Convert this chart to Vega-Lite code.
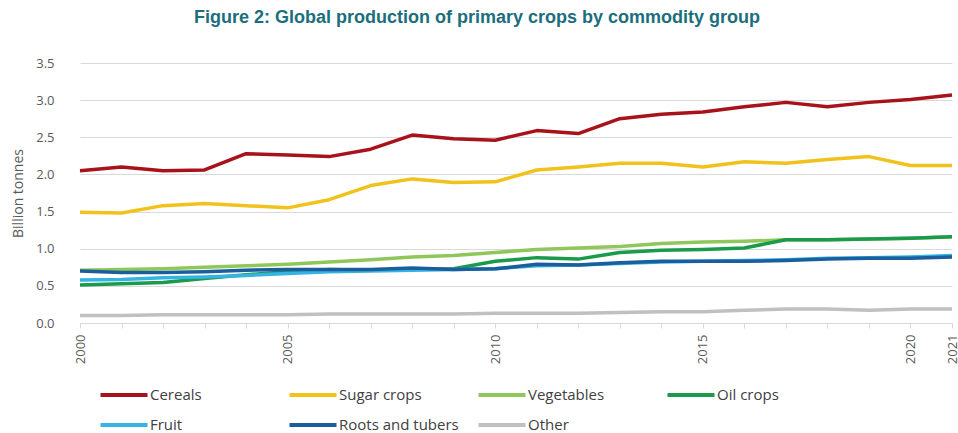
{
  "$schema": "https://vega.github.io/schema/vega-lite/v6.json",
  "autosize": "none",
  "width": 872,
  "height": 260,
  "padding": {"left": 80, "top": 63, "right": 6, "bottom": 110},
  "background": "white",
  "title": {
    "text": "Figure 2: Global production of primary crops by commodity group",
    "font": "Liberation Sans",
    "fontSize": 18,
    "fontWeight": "bold",
    "color": "#1C6E7D",
    "anchor": "middle",
    "dx": -39,
    "offset": 30
  },
  "data": {
    "values": [
      {"group":"Cereals","year":2000,"value":2.05},{"group":"Cereals","year":2001,"value":2.10},{"group":"Cereals","year":2002,"value":2.05},{"group":"Cereals","year":2003,"value":2.06},{"group":"Cereals","year":2004,"value":2.28},{"group":"Cereals","year":2005,"value":2.26},{"group":"Cereals","year":2006,"value":2.24},{"group":"Cereals","year":2007,"value":2.34},{"group":"Cereals","year":2008,"value":2.53},{"group":"Cereals","year":2009,"value":2.48},{"group":"Cereals","year":2010,"value":2.46},{"group":"Cereals","year":2011,"value":2.59},{"group":"Cereals","year":2012,"value":2.55},{"group":"Cereals","year":2013,"value":2.75},{"group":"Cereals","year":2014,"value":2.81},{"group":"Cereals","year":2015,"value":2.84},{"group":"Cereals","year":2016,"value":2.91},{"group":"Cereals","year":2017,"value":2.97},{"group":"Cereals","year":2018,"value":2.91},{"group":"Cereals","year":2019,"value":2.97},{"group":"Cereals","year":2020,"value":3.01},{"group":"Cereals","year":2021,"value":3.07},
      {"group":"Sugar crops","year":2000,"value":1.49},{"group":"Sugar crops","year":2001,"value":1.48},{"group":"Sugar crops","year":2002,"value":1.58},{"group":"Sugar crops","year":2003,"value":1.61},{"group":"Sugar crops","year":2004,"value":1.58},{"group":"Sugar crops","year":2005,"value":1.55},{"group":"Sugar crops","year":2006,"value":1.66},{"group":"Sugar crops","year":2007,"value":1.85},{"group":"Sugar crops","year":2008,"value":1.94},{"group":"Sugar crops","year":2009,"value":1.89},{"group":"Sugar crops","year":2010,"value":1.90},{"group":"Sugar crops","year":2011,"value":2.06},{"group":"Sugar crops","year":2012,"value":2.10},{"group":"Sugar crops","year":2013,"value":2.15},{"group":"Sugar crops","year":2014,"value":2.15},{"group":"Sugar crops","year":2015,"value":2.10},{"group":"Sugar crops","year":2016,"value":2.17},{"group":"Sugar crops","year":2017,"value":2.15},{"group":"Sugar crops","year":2018,"value":2.20},{"group":"Sugar crops","year":2019,"value":2.24},{"group":"Sugar crops","year":2020,"value":2.12},{"group":"Sugar crops","year":2021,"value":2.12},
      {"group":"Vegetables","year":2000,"value":0.71},{"group":"Vegetables","year":2001,"value":0.72},{"group":"Vegetables","year":2002,"value":0.73},{"group":"Vegetables","year":2003,"value":0.75},{"group":"Vegetables","year":2004,"value":0.77},{"group":"Vegetables","year":2005,"value":0.79},{"group":"Vegetables","year":2006,"value":0.82},{"group":"Vegetables","year":2007,"value":0.85},{"group":"Vegetables","year":2008,"value":0.89},{"group":"Vegetables","year":2009,"value":0.91},{"group":"Vegetables","year":2010,"value":0.95},{"group":"Vegetables","year":2011,"value":0.99},{"group":"Vegetables","year":2012,"value":1.01},{"group":"Vegetables","year":2013,"value":1.03},{"group":"Vegetables","year":2014,"value":1.07},{"group":"Vegetables","year":2015,"value":1.09},{"group":"Vegetables","year":2016,"value":1.10},{"group":"Vegetables","year":2017,"value":1.12},{"group":"Vegetables","year":2018,"value":1.12},{"group":"Vegetables","year":2019,"value":1.13},{"group":"Vegetables","year":2020,"value":1.14},{"group":"Vegetables","year":2021,"value":1.16},
      {"group":"Oil crops","year":2000,"value":0.51},{"group":"Oil crops","year":2001,"value":0.53},{"group":"Oil crops","year":2002,"value":0.545},{"group":"Oil crops","year":2003,"value":0.60},{"group":"Oil crops","year":2004,"value":0.65},{"group":"Oil crops","year":2005,"value":0.69},{"group":"Oil crops","year":2006,"value":0.72},{"group":"Oil crops","year":2007,"value":0.71},{"group":"Oil crops","year":2008,"value":0.72},{"group":"Oil crops","year":2009,"value":0.73},{"group":"Oil crops","year":2010,"value":0.83},{"group":"Oil crops","year":2011,"value":0.88},{"group":"Oil crops","year":2012,"value":0.86},{"group":"Oil crops","year":2013,"value":0.95},{"group":"Oil crops","year":2014,"value":0.98},{"group":"Oil crops","year":2015,"value":0.99},{"group":"Oil crops","year":2016,"value":1.01},{"group":"Oil crops","year":2017,"value":1.12},{"group":"Oil crops","year":2018,"value":1.12},{"group":"Oil crops","year":2019,"value":1.13},{"group":"Oil crops","year":2020,"value":1.14},{"group":"Oil crops","year":2021,"value":1.16},
      {"group":"Fruit","year":2000,"value":0.58},{"group":"Fruit","year":2001,"value":0.585},{"group":"Fruit","year":2002,"value":0.61},{"group":"Fruit","year":2003,"value":0.62},{"group":"Fruit","year":2004,"value":0.64},{"group":"Fruit","year":2005,"value":0.665},{"group":"Fruit","year":2006,"value":0.69},{"group":"Fruit","year":2007,"value":0.70},{"group":"Fruit","year":2008,"value":0.71},{"group":"Fruit","year":2009,"value":0.72},{"group":"Fruit","year":2010,"value":0.73},{"group":"Fruit","year":2011,"value":0.77},{"group":"Fruit","year":2012,"value":0.78},{"group":"Fruit","year":2013,"value":0.80},{"group":"Fruit","year":2014,"value":0.82},{"group":"Fruit","year":2015,"value":0.83},{"group":"Fruit","year":2016,"value":0.84},{"group":"Fruit","year":2017,"value":0.85},{"group":"Fruit","year":2018,"value":0.87},{"group":"Fruit","year":2019,"value":0.88},{"group":"Fruit","year":2020,"value":0.89},{"group":"Fruit","year":2021,"value":0.91},
      {"group":"Roots and tubers","year":2000,"value":0.70},{"group":"Roots and tubers","year":2001,"value":0.68},{"group":"Roots and tubers","year":2002,"value":0.68},{"group":"Roots and tubers","year":2003,"value":0.69},{"group":"Roots and tubers","year":2004,"value":0.71},{"group":"Roots and tubers","year":2005,"value":0.72},{"group":"Roots and tubers","year":2006,"value":0.72},{"group":"Roots and tubers","year":2007,"value":0.72},{"group":"Roots and tubers","year":2008,"value":0.74},{"group":"Roots and tubers","year":2009,"value":0.72},{"group":"Roots and tubers","year":2010,"value":0.73},{"group":"Roots and tubers","year":2011,"value":0.79},{"group":"Roots and tubers","year":2012,"value":0.78},{"group":"Roots and tubers","year":2013,"value":0.81},{"group":"Roots and tubers","year":2014,"value":0.83},{"group":"Roots and tubers","year":2015,"value":0.83},{"group":"Roots and tubers","year":2016,"value":0.83},{"group":"Roots and tubers","year":2017,"value":0.84},{"group":"Roots and tubers","year":2018,"value":0.86},{"group":"Roots and tubers","year":2019,"value":0.87},{"group":"Roots and tubers","year":2020,"value":0.87},{"group":"Roots and tubers","year":2021,"value":0.89},
      {"group":"Other","year":2000,"value":0.10},{"group":"Other","year":2001,"value":0.10},{"group":"Other","year":2002,"value":0.11},{"group":"Other","year":2003,"value":0.11},{"group":"Other","year":2004,"value":0.11},{"group":"Other","year":2005,"value":0.11},{"group":"Other","year":2006,"value":0.12},{"group":"Other","year":2007,"value":0.12},{"group":"Other","year":2008,"value":0.12},{"group":"Other","year":2009,"value":0.12},{"group":"Other","year":2010,"value":0.13},{"group":"Other","year":2011,"value":0.13},{"group":"Other","year":2012,"value":0.13},{"group":"Other","year":2013,"value":0.14},{"group":"Other","year":2014,"value":0.15},{"group":"Other","year":2015,"value":0.15},{"group":"Other","year":2016,"value":0.17},{"group":"Other","year":2017,"value":0.19},{"group":"Other","year":2018,"value":0.19},{"group":"Other","year":2019,"value":0.17},{"group":"Other","year":2020,"value":0.19},{"group":"Other","year":2021,"value":0.19}
    ]
  },
  "mark": {"type": "line", "strokeWidth": 3.5, "strokeJoin": "round"},
  "encoding": {
    "x": {
      "field": "year",
      "type": "quantitative",
      "scale": {"domain": [2000, 2021], "nice": false, "zero": false},
      "axis": {
        "title": null,
        "values": [2000,2001,2002,2003,2004,2005,2006,2007,2008,2009,2010,2011,2012,2013,2014,2015,2016,2017,2018,2019,2020,2021],
        "labelExpr": "(datum.value % 5 == 0 || datum.value == 2021) ? format(datum.value, 'd') : ''",
        "labelAngle": -90,
        "labelFont": "Open Sans",
        "labelFontSize": 13,
        "labelColor": "#595959",
        "labelPadding": 6,
        "labelOverlap": false,
        "labelBound": false,
        "labelFlush": false,
        "domainColor": "#D9D9D9",
        "domainWidth": 1,
        "tickColor": "#D9D9D9",
        "tickSize": 5,
        "grid": false
      }
    },
    "y": {
      "field": "value",
      "type": "quantitative",
      "scale": {"domain": [0, 3.5], "nice": false},
      "axis": {
        "title": "Billion tonnes",
        "titleFont": "Open Sans",
        "titleFontSize": 14,
        "titleFontWeight": "normal",
        "titleColor": "#595959",
        "titlePadding": 10,
        "values": [0, 0.5, 1, 1.5, 2, 2.5, 3, 3.5],
        "format": ".1f",
        "labelFont": "Open Sans",
        "labelFontSize": 13,
        "labelColor": "#595959",
        "labelPadding": 26,
        "domain": false,
        "ticks": false,
        "grid": true,
        "gridColor": "#D9D9D9",
        "gridWidth": 1
      }
    },
    "color": {
      "field": "group",
      "type": "nominal",
      "sort": ["Cereals", "Sugar crops", "Vegetables", "Oil crops", "Fruit", "Roots and tubers", "Other"],
      "scale": {
        "domain": ["Cereals", "Sugar crops", "Vegetables", "Oil crops", "Fruit", "Roots and tubers", "Other"],
        "range": ["#A8121B", "#F0C21B", "#8FC75B", "#1A9A4A", "#35B3E3", "#1A5E9E", "#C0C0C0"]
      },
      "legend": {
        "title": null,
        "orient": "none",
        "legendX": 30,
        "legendY": 318,
        "direction": "horizontal",
        "columns": 4,
        "gridAlign": "all",
        "columnPadding": 11,
        "rowPadding": 8,
        "symbolType": "M-2,0H2",
        "symbolSize": 552,
        "symbolStrokeWidth": 4,
        "symbolFillColor": "transparent",
        "labelOffset": 12,
        "labelFont": "Open Sans",
        "labelFontSize": 15,
        "labelColor": "#404040",
        "labelLimit": 300
      }
    },
    "order": {"field": "year"}
  },
  "config": {
    "view": {"stroke": null}
  }
}
